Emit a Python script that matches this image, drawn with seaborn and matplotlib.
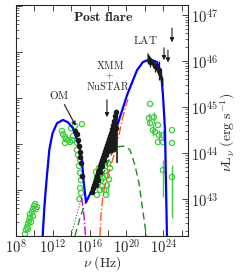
import numpy as np
import pandas as pd
import seaborn as sns
import matplotlib
matplotlib.use('Agg')
import matplotlib.pyplot as plt
from matplotlib.ticker import FixedLocator, FixedFormatter, LogLocator, NullFormatter, NullLocator, FuncFormatter

# all values: log10(nu / Hz) and log10(nu L_nu / erg s^-1)

# model: total (blue)
total_nu = [10.90, 11.10, 11.32, 11.62, 11.97, 12.46, 13.11, 13.65, 14.20, 14.74, 14.96, 15.17, 15.34, 15.61,
            16.37, 17.13, 18.22, 19.09, 20.07, 21.15, 21.80, 22.57, 23.33, 23.76, 23.98, 24.20, 24.30, 24.41]
total_L = [42.20, 42.87, 43.41, 44.07, 44.43, 44.65, 44.72, 44.67, 44.54, 44.22, 44.07, 43.85, 43.41, 42.93,
           43.24, 43.57, 44.13, 44.65, 45.26, 45.80, 45.98, 46.04, 45.98, 45.76, 45.26, 44.50, 43.41, 42.20]
# model: SSC (green dashed)
ssc_nu = [14.41, 14.96, 15.50, 16.04, 16.80, 17.67, 18.22, 18.65, 19.09, 19.74, 20.39, 20.93, 21.37, 21.70, 22.18]
ssc_L = [42.20, 42.59, 42.89, 43.13, 43.28, 43.63, 43.91, 44.07, 44.14, 44.15, 44.07, 43.74, 43.35, 42.87, 42.20]
# model: disk (magenta dash-dot)
disk_nu = [15.07, 15.17, 15.39, 15.55]
disk_L = [43.04, 42.98, 42.65, 42.20]
# model: host / torus (black dotted)
host_nu = [13.98, 14.52, 14.96, 15.17]
host_L = [42.20, 42.59, 42.91, 43.02]
# model: corona (orange dash-dot)
corona_nu = [17.13, 17.24, 17.40, 17.57, 18.00, 18.60, 19.20, 19.63, 20.07, 20.17]
corona_L = [42.20, 42.65, 42.98, 43.20, 43.52, 43.92, 44.40, 44.80, 45.11, 45.17]

# post flare OM
om_nu = [14.41, 14.58, 14.74, 14.85, 14.96, 15.01, 15.07, 15.17]
om_L = [44.48, 44.41, 44.28, 44.15, 44.02, 43.91, 43.78, 43.50]
# post flare XMM + NuSTAR
xray_nu = [16.26, 16.37, 16.48, 16.59, 16.70, 16.80, 16.91, 17.02, 17.13, 17.24, 17.35, 17.46, 17.57, 17.67,
           17.78, 17.89, 18.00, 18.11, 18.22, 18.33, 18.43, 18.54, 18.65, 18.76, 18.87,
           17.13, 17.35, 17.57, 17.78, 18.00, 18.22, 18.43, 18.65, 18.87, 16.70, 16.91]
xray_L = [43.15, 43.24, 43.30, 43.37, 43.43, 43.50, 43.59, 43.63, 43.72, 43.78, 43.85, 43.91, 43.98, 44.04,
          44.11, 44.17, 44.24, 44.30, 44.37, 44.43, 44.52, 44.61, 44.70, 44.80, 44.89,
          43.59, 43.72, 43.85, 43.96, 44.07, 44.17, 44.28, 44.39, 44.54, 43.30, 43.41]
xbow_nu = [17.35, 18.00, 18.90]
xbow_hi = [43.90, 44.35, 44.98]
xbow_lo = [43.75, 43.98, 44.05]
nustar_end = [18.98, 44.30, 43.78, 44.93]  # nu, L, low, high
# post flare LAT
lat_nu = [22.57, 23.11, 23.54]
lat_L = [45.98, 45.89, 45.80]
lat_err = [0.10, 0.12, 0.20]
lbow_nu = [22.24, 22.67, 23.11, 23.98]
lbow_hi = [46.20, 46.07, 45.96, 45.63]
lbow_lo = [45.98, 45.93, 45.85, 45.46]
ul_nu = [24.09, 24.52, 24.96]
ul_top = [46.35, 46.30, 46.78]
ul_bot = [45.96, 45.91, 46.35]

# archival (green open circles)
arch_nu = [8.98, 9.09, 9.20, 9.30, 9.41, 9.52, 9.52, 9.63, 9.74, 9.85, 9.96, 10.07, 10.17, 10.28, 9.85, 9.30,
           13.00, 13.11, 13.33, 13.43, 13.65, 13.87, 13.33, 14.09, 14.20, 13.98, 14.41, 15.17, 14.63, 14.63,
           14.74, 14.96, 14.85, 14.96, 15.07, 14.96, 15.07, 14.90,
           16.70, 16.80, 16.91, 17.02, 17.13, 17.24, 17.35, 17.46, 17.57, 17.67, 17.78, 17.89, 18.00, 18.22,
           17.57, 17.13, 16.80, 17.89, 18.11,
           22.57, 22.46, 23.00, 22.57, 22.89, 23.11, 23.43, 23.54, 23.98, 23.43, 23.98, 24.96, 24.96, 23.98, 24.96]
arch_L = [42.24, 42.33, 42.39, 42.46, 42.52, 42.59, 42.67, 42.50, 42.72, 42.78, 42.85, 42.89, 42.78, 42.83, 42.63, 42.35,
          44.48, 44.41, 44.35, 44.30, 44.28, 44.24, 44.22, 44.28, 44.37, 44.54, 44.59, 44.63, 44.22, 44.07,
          43.96, 43.85, 43.72, 43.57, 43.41, 43.24, 43.13, 43.00,
          43.59, 43.48, 43.35, 43.67, 43.52, 43.41, 43.28, 43.46, 43.20, 43.61, 43.09, 43.30, 43.78, 43.67,
          43.80, 43.20, 43.09, 43.50, 43.43,
          45.07, 44.76, 44.78, 44.65, 44.50, 44.46, 44.61, 44.39, 44.39, 44.24, 44.24, 44.50, 44.22, 43.63, 43.48]
arch_err_nu = [18.00, 22.46, 23.00, 22.89, 23.54, 23.98, 23.98, 24.96]
arch_err_L = [43.20, 44.76, 44.78, 44.50, 44.39, 44.39, 43.63, 43.48]
arch_err_lo = [43.07, 44.61, 44.63, 44.37, 44.24, 44.26, 43.04, 42.59]
arch_err_hi = [43.33, 44.87, 44.89, 44.63, 44.50, 44.50, 43.85, 43.74]

green = '#3ccc3c'

sns.set_theme(style='ticks')
plt.rcParams.update({
    'font.family': ['DejaVu Serif'],
    'mathtext.fontset': 'cm',
    'xtick.direction': 'in', 'ytick.direction': 'in',
    'axes.linewidth': 0.8,
})

p = lambda a: 10.0 ** np.asarray(a)

fig = plt.figure(figsize=(2.41, 2.74), dpi=100)
ax = fig.add_axes([16 / 241, 1 - 236 / 274, 172 / 241, 230.5 / 274])
ax.set_xscale('log')
ax.set_yscale('log')

# left axis: same decades, shifted (ticks only)
ax2 = ax.twinx()
ax2.set_yscale('log')
ax2.set_ylim(10 ** 41.996, 10 ** 47.01)
ax2.yaxis.set_ticks_position('left')
ax2.yaxis.set_major_locator(LogLocator(base=10, numticks=20))
ax2.yaxis.set_minor_locator(LogLocator(base=10, subs=np.arange(2, 10), numticks=100))
ax2.tick_params(axis='y', which='major', length=4, width=0.6, labelleft=False, labelright=False)
ax2.tick_params(axis='y', which='minor', length=2, width=0.5)
ax2.yaxis.set_minor_formatter(NullFormatter())
for s in ax2.spines.values():
    s.set_visible(False)
ax.set_zorder(ax2.get_zorder() + 1)
ax.patch.set_visible(False)

# archival
arch = pd.DataFrame({'nu': p(arch_nu), 'L': p(arch_L)})
ax.errorbar(p(arch_err_nu), p(arch_err_L),
            yerr=[p(arch_err_L) - p(arch_err_lo), p(arch_err_hi) - p(arch_err_L)],
            fmt='none', ecolor=green, elinewidth=1.0, zorder=1)
sns.scatterplot(data=arch, x='nu', y='L', ax=ax, s=14, marker='o', facecolor='none',
                edgecolor=green, linewidth=0.9, zorder=2)

# models
sns.lineplot(x=p(host_nu), y=p(host_L), ax=ax, sort=False, estimator=None, color='0.3',
             lw=0.8, linestyle=':', zorder=3)
sns.lineplot(x=p(disk_nu), y=p(disk_L), ax=ax, sort=False, estimator=None, color='#d000d0',
             lw=1.0, linestyle='-.', zorder=3)
sns.lineplot(x=p(corona_nu), y=p(corona_L), ax=ax, sort=False, estimator=None, color='#ff5522',
             lw=1.0, linestyle='-.', zorder=3)
sns.lineplot(x=p(ssc_nu), y=p(ssc_L), ax=ax, sort=False, estimator=None, color='#1f8a1f',
             lw=1.0, linestyle=(0, (5, 3)), zorder=3)
sns.lineplot(x=p(total_nu), y=p(total_L), ax=ax, sort=False, estimator=None, color='#0000ff',
             lw=1.6, zorder=4)

# post flare data
sns.scatterplot(x=p(om_nu), y=p(om_L), ax=ax, s=16, color='k', linewidth=0, zorder=5)
sns.scatterplot(x=p(xray_nu), y=p(xray_L), ax=ax, s=16, color='k', linewidth=0, zorder=5)
ax.fill_between(p(xbow_nu), p(xbow_lo), p(xbow_hi), color='k', lw=0, zorder=5)
ax.errorbar([10 ** nustar_end[0]], [10 ** nustar_end[1]],
            yerr=[[10 ** nustar_end[1] - 10 ** nustar_end[2]], [10 ** nustar_end[3] - 10 ** nustar_end[1]]],
            fmt='none', ecolor='k', elinewidth=1.2, zorder=5)
ax.fill_between(p(lbow_nu), p(lbow_lo), p(lbow_hi), color='k', lw=0, zorder=5)
ax.errorbar(p(lat_nu), p(lat_L), yerr=[p(lat_L) - p(np.array(lat_L) - lat_err),
                                        p(np.array(lat_L) + lat_err) - p(lat_L)],
            fmt='o', ms=3, color='k', elinewidth=0.9, zorder=5)
for x, yt, yb in zip(ul_nu, ul_top, ul_bot):
    ax.annotate('', xy=(10 ** x, 10 ** yb), xytext=(10 ** x, 10 ** yt),
                arrowprops=dict(arrowstyle='-|>', color='k', lw=0.8, mutation_scale=6), zorder=6)

# labels
ax.text(10 ** 17.46, 10 ** 46.96, r'$\mathbf{Post\ flare}$', ha='center', va='center', fontsize=10)
ax.text(10 ** 18.22, 10 ** 45.91, r'$\mathrm{XMM}$', ha='center', va='center', fontsize=7.5)
ax.text(10 ** 18.22, 10 ** 45.69, r'$+$', ha='center', va='center', fontsize=7)
ax.text(10 ** 18.0, 10 ** 45.45, r'$\mathrm{NuSTAR}$', ha='center', va='center', fontsize=7.5)
ax.text(10 ** 22.02, 10 ** 46.46, r'$\mathrm{LAT}$', ha='center', va='center', fontsize=8)
ax.text(10 ** 12.67, 10 ** 45.26, r'$\mathrm{OM}$', ha='center', va='center', fontsize=8)
ax.annotate('', xy=(10 ** 17.89, 10 ** 44.72), xytext=(10 ** 17.89, 10 ** 45.22),
            arrowprops=dict(arrowstyle='-|>', color='k', lw=0.8, mutation_scale=6))
ax.annotate('', xy=(10 ** 14.63, 10 ** 44.54), xytext=(10 ** 13.11, 10 ** 45.11),
            arrowprops=dict(arrowstyle='-|>', color='k', lw=0.8, mutation_scale=6))

# axes
ax.set_xlim(1e8, 10 ** 26.7)
ax.set_ylim(10 ** 42.196, 10 ** 47.21)
xt = list(range(8, 27, 2))
ax.xaxis.set_major_locator(FixedLocator([10.0 ** k for k in xt]))
ax.xaxis.set_major_formatter(FixedFormatter([r'$10^{%d}$' % k if k % 4 == 0 else '' for k in xt]))
ax.xaxis.set_minor_locator(NullLocator())
ax.yaxis.set_major_locator(LogLocator(base=10, numticks=20))
ax.yaxis.set_minor_locator(LogLocator(base=10, subs=np.arange(2, 10), numticks=100))
ax.yaxis.set_minor_formatter(NullFormatter())
ax.yaxis.set_major_formatter(FuncFormatter(lambda v, pos: r'$10^{%d}$' % round(np.log10(v))))
ax.yaxis.set_ticks_position('right')
ax.tick_params(axis='y', which='both', left=False, labelleft=False, right=True, labelright=True)
ax.tick_params(axis='x', which='both', top=True, bottom=True, length=4, width=0.6, labelsize=10.5, pad=1.5)
ax.tick_params(axis='y', which='major', length=4, width=0.6, labelsize=10.5, pad=2)
ax.tick_params(axis='y', which='minor', length=2, width=0.5)

ax.set_xlabel(r'$\nu\ \mathrm{(Hz)}$', fontsize=10)
ax.xaxis.set_label_coords(0.5, -0.081)
ax.yaxis.set_label_position('right')
ax.set_ylabel(r'$\nu\mathrm{L}_{\nu}\ \mathrm{(erg\ s^{-1})}$', fontsize=10)
ax.yaxis.set_label_coords(1.18, 0.45)

fig.savefig('out.png', dpi=100)
